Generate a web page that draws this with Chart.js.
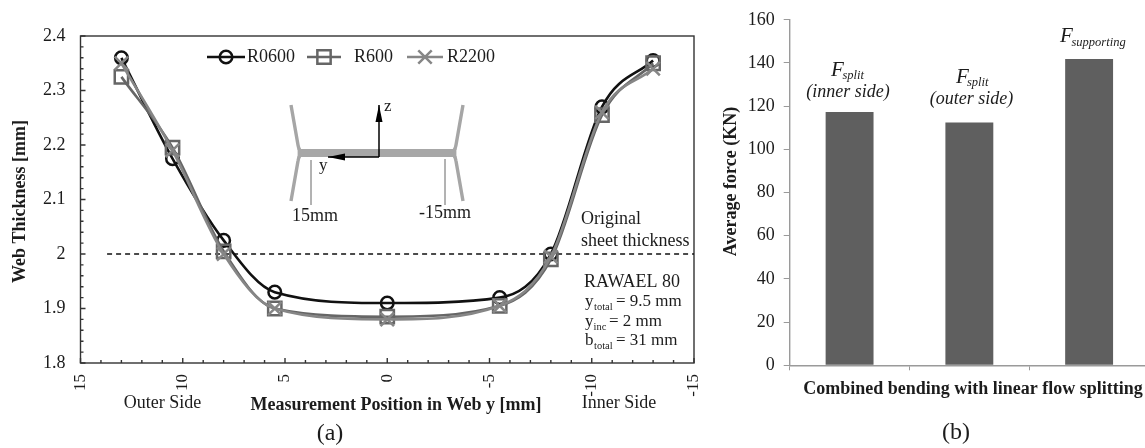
<!DOCTYPE html>
<html>
<head>
<meta charset="utf-8">
<script src="https://cdn.jsdelivr.net/npm/chart.js@4/dist/chart.umd.js"></script>
<style>
html, body { margin: 0; padding: 0; background: #fff; overflow: hidden; width: 1145px; height: 448px; }
canvas { position: absolute; top: 0; }
#grafico_a { left: 0; }
#grafico_b { left: 720px; }
</style>
</head>
<body>
<canvas id="grafico_a" width="720" height="448"></canvas>
<canvas id="grafico_b" width="429" height="448"></canvas>
<script>
// (a) web thickness
var posicoes = [13, 10.5, 8, 5.5, 0, -5.5, -8, -10.5, -13];
var r0600 = [2.36, 2.175, 2.025, 1.93, 1.91, 1.92, 2.0, 2.27, 2.355];
var r600 = [2.325, 2.195, 2.005, 1.9, 1.885, 1.905, 1.99, 2.255, 2.35];
var r2200 = [2.35, 2.19, 2.0, 1.9, 1.88, 1.905, 1.995, 2.26, 2.34];
var chapaX = [13.7, -15];
var chapaY = [2, 2];

// (b) average force
var categorias = ["Fsplit (inner side)", "Fsplit (outer side)", "Fsupporting"];
var forcas = [117.3, 112.4, 141.9];

var serifa = '"Liberation Serif"';
var corTexto = "#1c1c1c";

function pares(xs, ys) {
    return xs.map(function (x, i) { return { x: x, y: ys[i] }; });
}

function serie(nome, valores, cor, estilo, raio, ordem) {
    return {
        label: nome,
        data: pares(posicoes, valores),
        borderColor: cor,
        borderWidth: 2.6,
        cubicInterpolationMode: "monotone",
        pointStyle: estilo,
        pointRadius: raio,
        pointBorderColor: cor,
        pointBorderWidth: 2.5,
        pointBackgroundColor: "rgba(0,0,0,0)",
        order: ordem
    };
}

function escreve(ctx, itens) {
    ctx.save();
    ctx.fillStyle = corTexto;
    ctx.textBaseline = "middle";
    itens.forEach(function (t) {
        ctx.font = t[3];
        ctx.textAlign = t[4] || "left";
        ctx.fillText(t[0], t[1], t[2]);
    });
    ctx.restore();
}

function escreveVertical(ctx, texto, x, y, fonte) {
    ctx.save();
    ctx.translate(x, y);
    ctx.rotate(-Math.PI / 2);
    ctx.fillStyle = corTexto;
    ctx.font = fonte;
    ctx.textAlign = "center";
    ctx.textBaseline = "middle";
    ctx.fillText(texto, 0, 0);
    ctx.restore();
}

// moldura e marcas para dentro, sempre a partir das escalas
var molduraA = {
    id: "molduraA",
    beforeDatasetsDraw: function (chart) {
        var ctx = chart.ctx, area = chart.chartArea;
        var sx = chart.scales.x, sy = chart.scales.y;
        ctx.save();
        ctx.strokeStyle = "#333";
        ctx.lineWidth = 1.4;
        ctx.strokeRect(area.left, area.top, area.right - area.left, area.bottom - area.top);
        ctx.beginPath();
        for (var i = -15; i <= 15; i++) {
            var px = sx.getPixelForValue(i);
            ctx.moveTo(px, area.bottom);
            ctx.lineTo(px, area.bottom - (i % 5 === 0 ? 5 : 3));
        }
        for (var j = 0; j <= 30; j++) {
            var py = sy.getPixelForValue(1.8 + j * 0.02);
            ctx.moveTo(area.left, py);
            ctx.lineTo(area.left + (j % 5 === 0 ? 5 : 3), py);
        }
        ctx.stroke();
        ctx.restore();
    }
};

var legendaA = {
    id: "legendaA",
    afterDraw: function (chart) {
        var ctx = chart.ctx;
        var itens = [[207, 245, 247], [307, 341, 354], [407, 443, 447]];
        chart.data.datasets.slice(0, 3).forEach(function (d, i) {
            var it = itens[i], y = 57;
            ctx.save();
            ctx.strokeStyle = d.borderColor;
            ctx.lineWidth = d.borderWidth;
            ctx.beginPath();
            ctx.moveTo(it[0], y);
            ctx.lineTo(it[1], y);
            ctx.stroke();
            ctx.lineWidth = d.pointBorderWidth;
            ctx.fillStyle = "rgba(0,0,0,0)";
            Chart.helpers.drawPoint(ctx, { pointStyle: d.pointStyle, rotation: 0, radius: d.pointRadius, borderWidth: d.pointBorderWidth }, (it[0] + it[1]) / 2, y);
            ctx.restore();
            escreve(ctx, [[d.label, it[2], y, "18px " + serifa]]);
        });
    }
};

function seta(ctx, x1, y1, x2, y2) {
    var a = Math.atan2(y2 - y1, x2 - x1);
    ctx.beginPath();
    ctx.moveTo(x1, y1);
    ctx.lineTo(x2, y2);
    ctx.stroke();
    ctx.beginPath();
    ctx.moveTo(x2, y2);
    ctx.lineTo(x2 - 17 * Math.cos(a) - 3.5 * Math.sin(a), y2 - 17 * Math.sin(a) + 3.5 * Math.cos(a));
    ctx.lineTo(x2 - 17 * Math.cos(a) + 3.5 * Math.sin(a), y2 - 17 * Math.sin(a) - 3.5 * Math.cos(a));
    ctx.closePath();
    ctx.fill();
}

// desenho da secao em U e textos soltos
var anotacoesA = {
    id: "anotacoesA",
    afterDraw: function (chart) {
        var ctx = chart.ctx;
        ctx.save();
        ctx.strokeStyle = "#a6a6a6";
        ctx.lineWidth = 3.4;
        ctx.beginPath();
        ctx.moveTo(291, 105);
        ctx.lineTo(298, 145);
        ctx.quadraticCurveTo(299, 152, 304, 153);
        ctx.moveTo(304, 153);
        ctx.quadraticCurveTo(299, 154, 298, 161);
        ctx.lineTo(291, 201);
        ctx.moveTo(463, 105);
        ctx.lineTo(456, 145);
        ctx.quadraticCurveTo(455, 152, 450, 153);
        ctx.moveTo(450, 153);
        ctx.quadraticCurveTo(455, 154, 456, 161);
        ctx.lineTo(463, 201);
        ctx.stroke();
        ctx.fillStyle = "#b2b2b2";
        ctx.fillRect(298, 149, 158, 8);
        ctx.strokeStyle = "#8f8f8f";
        ctx.lineWidth = 0.6;
        ctx.beginPath();
        for (var mx = 298; mx <= 456; mx += 2) {
            ctx.moveTo(mx, 149);
            ctx.lineTo(mx, 157);
        }
        ctx.stroke();

        ctx.strokeStyle = "#666";
        ctx.lineWidth = 1;
        ctx.beginPath();
        ctx.moveTo(311, 160);
        ctx.lineTo(311, 205);
        ctx.moveTo(445, 159);
        ctx.lineTo(445, 205);
        ctx.stroke();

        ctx.strokeStyle = "#000";
        ctx.fillStyle = "#000";
        ctx.lineWidth = 1.5;
        seta(ctx, 379, 157, 379, 105);
        seta(ctx, 379, 157, 328, 157);
        ctx.restore();

        var f18 = "18px " + serifa, f17 = "17px " + serifa, f10 = "10.5px " + serifa;
        escreve(ctx, [
            ["z", 384, 107, f17],
            ["y", 319, 166, f17],
            ["15mm", 292, 216, f18],
            ["-15mm", 419, 213, f18],
            ["Original", 581, 219, f18],
            ["sheet thickness", 581, 241, f18],
            ["RAWAEL 80", 584, 282, f18],
            ["y", 585, 302, f17],
            ["total", 594, 307, f10],
            ["= 9.5 mm", 616, 302, f17],
            ["y", 585, 322, f17],
            ["inc", 593.5, 327, f10],
            ["= 2 mm", 609, 322, f17],
            ["b", 585, 341, f17],
            ["total", 594, 346, f10],
            ["= 31 mm", 616, 341, f17],
            ["Outer Side", 162.5, 403, f18, "center"],
            ["Inner Side", 619, 403, f18, "center"],
            ["Measurement Position in Web y [mm]", 396, 405, "bold 18px " + serifa, "center"],
            ["(a)", 330, 434, "24px " + serifa, "center"]
        ]);
        escreveVertical(ctx, "Web Thickness [mm]", 20, 201.5, "bold 18px " + serifa);
    }
};

var anotacoesB = {
    id: "anotacoesB",
    afterDraw: function (chart) {
        var ctx = chart.ctx;
        var fF = "italic 21px " + serifa, fS = "italic 12.5px " + serifa, fT = "italic 18px " + serifa;
        escreve(ctx, [
            ["F", 111, 70, fF],
            ["split", 122.5, 76, fS],
            ["(inner side)", 128, 92, fT, "center"],
            ["F", 236, 77, fF],
            ["split", 247, 83, fS],
            ["(outer side)", 251.5, 99, fT, "center"],
            ["F", 340, 36, fF],
            ["supporting", 351.5, 43, fS],
            ["Combined bending with linear flow splitting", 253, 389, "bold 18px " + serifa, "center"],
            ["(b)", 236, 433, "24px " + serifa, "center"]
        ]);
        escreveVertical(ctx, "Average force (KN)", 11, 181.5, "bold 18px " + serifa);
    }
};

var contextoA = document.getElementById("grafico_a").getContext("2d");
var graficoA = new Chart(contextoA, {
    type: "line",
    data: {
        datasets: [
            serie("R0600", r0600, "#111111", "circle", 6.3, 3),
            serie("R600", r600, "#666666", "rect", 9.4, 2),
            serie("R2200", r2200, "#868686", "crossRot", 9.5, 1),
            {
                label: "Original sheet thickness",
                data: pares(chapaX, chapaY),
                borderColor: "#111111",
                borderWidth: 1.4,
                borderDash: [5, 4],
                pointRadius: 0,
                order: 4
            }
        ]
    },
    options: {
        responsive: false,
        animation: false,
        devicePixelRatio: 1,
        layout: { padding: { top: 36, right: 26, left: 0, bottom: 0 } },
        plugins: { legend: { display: false }, tooltip: { enabled: false } },
        scales: {
            x: {
                type: "linear",
                reverse: true,
                min: -15,
                max: 15,
                grid: { display: false },
                border: { display: false },
                afterFit: function (s) { s.height = 85; },
                ticks: {
                    stepSize: 5,
                    autoSkip: false,
                    minRotation: 90,
                    maxRotation: 90,
                    padding: 3,
                    color: corTexto,
                    font: { family: serifa, size: 17 }
                }
            },
            y: {
                min: 1.8,
                max: 2.4,
                grid: { display: false },
                border: { display: false },
                afterFit: function (s) { s.width = 80.5; },
                ticks: {
                    stepSize: 0.1,
                    padding: 7,
                    color: corTexto,
                    font: { family: serifa, size: 18 },
                    callback: function (v) { return String(+v.toFixed(1)); }
                }
            }
        }
    },
    plugins: [molduraA, legendaA, anotacoesA]
});

var contextoB = document.getElementById("grafico_b").getContext("2d");
var graficoB = new Chart(contextoB, {
    type: "bar",
    data: {
        labels: categorias,
        datasets: [{
            label: "Average force (KN)",
            data: forcas,
            backgroundColor: "#5f5f5f",
            barPercentage: 1,
            categoryPercentage: 0.4
        }]
    },
    options: {
        responsive: false,
        animation: false,
        devicePixelRatio: 1,
        layout: { padding: { top: 17.7, right: 0, left: 0, bottom: 0 } },
        plugins: { legend: { display: false }, tooltip: { enabled: false } },
        scales: {
            x: {
                grid: { drawOnChartArea: false, color: "#9a9a9a", tickLength: 5 },
                border: { color: "#9a9a9a", width: 1.4 },
                ticks: { display: false },
                afterFit: function (s) { s.height = 82.7; }
            },
            y: {
                min: 0,
                max: 160,
                grid: { drawOnChartArea: false, color: "#9a9a9a", tickLength: 6 },
                border: { color: "#9a9a9a", width: 1.4 },
                afterFit: function (s) { s.width = 69.7; },
                ticks: {
                    stepSize: 20,
                    padding: 9,
                    color: corTexto,
                    font: { family: serifa, size: 18 }
                }
            }
        }
    },
    plugins: [anotacoesB]
});
</script>
</body>
</html>
